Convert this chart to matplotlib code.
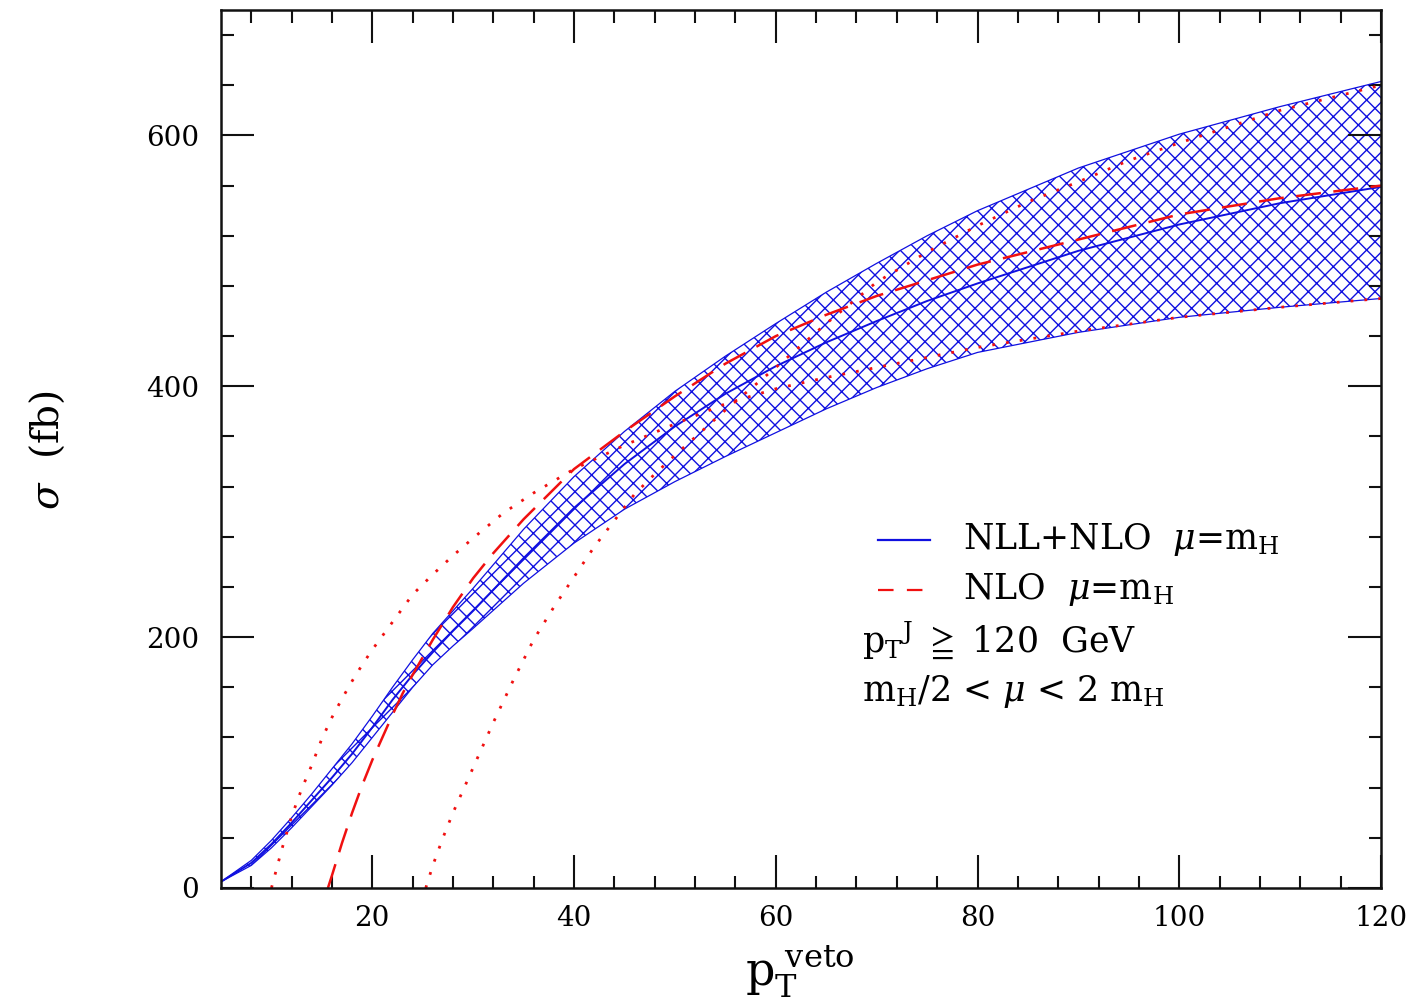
import matplotlib
matplotlib.use("Agg")
import matplotlib.pyplot as plt
from matplotlib.lines import Line2D

plt.rcParams['font.family'] = ['DejaVu Serif', 'DejaVu Sans']
plt.rcParams['mathtext.fontset'] = 'dejavuserif'
plt.rcParams['hatch.linewidth'] = 1.0

# ---- data ----
x_band = [5, 8, 10, 12, 14, 16, 18, 20, 22, 24, 26, 28, 30, 35, 40, 45, 50, 55,
          60, 65, 70, 75, 80, 90, 100, 110, 120]
band_hi = [5, 22, 38, 56, 75, 95, 115, 137, 160, 182, 203, 221, 239, 286, 328, 364,
           396, 424, 450, 475, 498, 520, 540, 574, 601, 623, 643]
band_lo = [5, 18, 32, 48, 65, 82, 100, 120, 140, 160, 178, 193, 207, 243, 275, 302,
           324, 344, 363, 382, 399, 414, 427, 443, 455, 463, 470]
nll_central = [5, 20, 35, 52, 70, 88, 107, 128, 150, 170, 188, 205, 221, 263, 303, 338,
               368, 394, 416, 435, 452, 468, 482, 508, 529, 546, 559]

x_nlo = [15.6, 16, 17, 18, 19, 20, 21, 22, 23, 24, 25, 26, 28, 30, 32, 35, 40, 45, 50,
         55, 60, 65, 70, 80, 90, 100, 110, 120]
nlo_central = [0, 10, 36, 60, 82, 102, 120, 138, 155, 170, 184, 198, 224, 247, 267, 294,
               334, 364, 392, 418, 440, 457, 472, 497, 517, 537, 550, 560]

x_nlo_a = [10, 11, 12, 13, 14, 15, 16, 17, 18, 19, 20, 22, 24, 26, 28, 30, 33, 36, 40,
           45, 50, 55, 60, 65, 70, 80, 90, 100, 110, 120]
nlo_a = [0, 30, 57, 79, 98, 119, 136, 151, 165, 178, 190, 212, 234, 250, 265, 279, 299,
         315, 334, 353, 370, 386, 398, 407, 415, 431, 444, 455, 463, 470]

x_nlo_b = [25.3, 26, 27, 28, 29, 30, 32, 34, 36, 38, 40, 42, 44, 46, 48, 50, 55, 60, 65,
           70, 75, 80, 85, 90, 95, 100, 110, 120]
nlo_b = [0, 18, 40, 60, 78, 96, 132, 166, 198, 224, 248, 272, 293, 314, 330, 345, 381,
         415, 450, 483, 507, 528, 547, 563, 580, 594, 620, 640]

xticks_major = [20, 40, 60, 80, 100, 120]
yticks_major = [0, 200, 400, 600]

BLUE = '#1010e0'
RED = '#f01010'

fig = plt.figure(figsize=(14.15, 10.02), dpi=100)
ax = fig.add_axes([221/1415, 1-888/1002, (1381-221)/1415, (888-10)/1002])

ax.fill_between(x_band, band_lo, band_hi, facecolor='none', edgecolor=BLUE,
                hatch='xx', linewidth=0)
ax.plot(x_band, band_hi, color=BLUE, lw=0.9)
ax.plot(x_band, band_lo, color=BLUE, lw=0.9)
ax.plot(x_band, nll_central, color=BLUE, lw=1.4)

ax.plot(x_nlo, nlo_central, color=RED, lw=1.8, dashes=(10, 5))
ax.plot(x_nlo_a, nlo_a, color=RED, lw=2.0, linestyle=(0, (1, 4)))
ax.plot(x_nlo_b, nlo_b, color=RED, lw=2.0, linestyle=(0, (1, 4)))

ax.set_xlim(5, 120)
ax.set_ylim(0, 700)
ax.set_xticks(xticks_major)
ax.set_xticks(range(8, 121, 4), minor=True)
ax.set_yticks(yticks_major)
ax.set_yticks(range(0, 701, 40), minor=True)
ax.tick_params(which='both', direction='in', top=True, right=True, width=1.5, color='#111111')
ax.tick_params(which='major', length=24)
ax.tick_params(which='minor', length=9)
ax.tick_params(axis='x', which='major', pad=12, labelsize=20)
ax.tick_params(axis='y', which='major', pad=16, labelsize=20)
for s in ax.spines.values():
    s.set_linewidth(1.8)
    s.set_color('#111111')

# axis labels
fig.text(47/1415, 1-450/1002, r'$\sigma$  (fb)', rotation=90, fontsize=28,
         ha='center', va='center')
fig.text(800/1415, 1-972/1002, r'$\mathregular{p_T^{\ veto}}$', fontsize=33,
         ha='center', va='center')

# legend-like annotation
tr = fig.transFigure
fig.add_artist(Line2D([878/1415, 930/1415], [1-540/1002, 1-540/1002], color=BLUE, lw=1.6,
                      transform=tr))
fig.add_artist(Line2D([878/1415, 930/1415], [1-590/1002, 1-590/1002], color=RED, lw=1.6,
                      dashes=(7, 6), transform=tr))
fig.text(963/1415, 1-540/1002, r'NLL+NLO  $\mu$=m$_\mathregular{H}$', fontsize=25,
         ha='left', va='center')
fig.text(963/1415, 1-590/1002, r'NLO  $\mu$=m$_\mathregular{H}$', fontsize=25,
         ha='left', va='center')
fig.text(862/1415, 1-640/1002, r'p$_\mathregular{T}$$^\mathregular{J}$ $\geqq$ 120  GeV',
         fontsize=25, ha='left', va='center')
fig.text(862/1415, 1-692/1002, r'm$_\mathregular{H}$/2 < $\mu$ < 2 m$_\mathregular{H}$',
         fontsize=25, ha='left', va='center')

fig.savefig('out.png', dpi=100)
